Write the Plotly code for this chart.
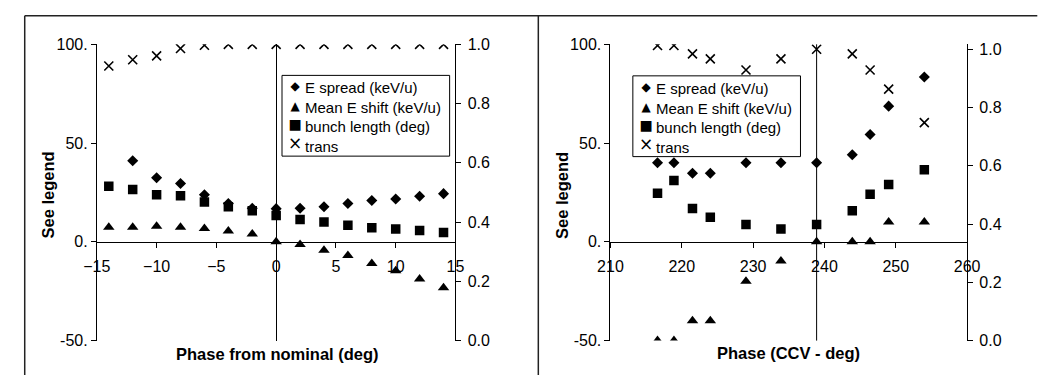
import plotly.graph_objects as go

# ---------------- data: left panel ----------------
phase_nom = [-14, -12, -10, -8, -6, -4, -2, 0, 2, 4, 6, 8, 10, 12, 14]
espread_l = [None, 41.1, 32.4, 29.5, 23.8, 19.4, 17.0, 16.8, 17.0, 17.8, 19.4, 20.9, 21.7, 23.1, 24.4]
eshift_l = [7.4, 7.4, 7.9, 7.4, 6.8, 5.5, 4.0, 0.0, -1.3, -4.2, -6.9, -11.0, -14.6, -18.8, -23.2]
bunch_l = [28.2, 26.5, 23.8, 23.3, 20.2, 17.8, 15.7, 13.3, 11.3, 10.0, 8.4, 7.1, 6.5, 5.7, 4.7]
trans_l = [0.927, 0.948, 0.961, 0.986, 0.997, 1.0, 1.0, 1.0, 1.0, 1.0, 1.0, 1.0, 1.0, 1.0, 1.0]

# ---------------- data: right panel ----------------
phase_ccv = [216.6, 218.9, 221.5, 224.0, 229.0, 233.9, 238.9, 243.9, 246.4, 249.0, 254.0]
espread_r = [40.0, 40.0, 34.7, 34.7, 40.0, 40.0, 40.0, 44.1, 54.3, 68.7, 83.5]
eshift_r = [-50.0, -50.0, -40.0, -40.0, -20.0, -9.7, 0.0, 0.0, 0.0, 10.0, 10.0]
bunch_r = [24.6, 31.1, 16.9, 12.5, 8.8, 6.5, 8.8, 15.7, 24.1, 29.0, 36.5]
trans_r = [1.013, 1.013, 0.984, 0.967, 0.929, 0.967, 1.0, 0.984, 0.929, 0.863, 0.748]

series_names = ["E spread (keV/u)", "Mean E shift (keV/u)", "bunch length (deg)", "trans"]
legend_glyphs = ["◆", "▲", "■", "×"]
left_ticks = [-50, 0, 50, 100]
left_ticktext = ["-50.", "0.", "50.", "100."]

W, H = 1062, 384
FONT = "Liberation Sans, Arial, sans-serif"


def px_x(p):
    return p / W


def px_y(p):
    return 1 - p / H


ydom = [px_y(348), px_y(38)]
xdom_l = [px_x(85), px_x(453)]
xdom_r = [px_x(612), px_x(978)]
ymin, ymax = -50, 100
zero_pos = ydom[0] + (0 - ymin) / (ymax - ymin) * (ydom[1] - ydom[0])

fig = go.Figure()

marker_styles = [
    dict(symbol="diamond", size=8.5, color="black"),
    dict(symbol="triangle-up", size=10, color="black"),
    dict(symbol="square", size=9.5, color="black"),
    dict(symbol="x-thin", size=9, color="black", line=dict(width=1.6, color="black")),
]


def add_panel(xv, ys, xa, ya, ya2):
    for i, (name, yv) in enumerate(zip(series_names, ys)):
        fig.add_trace(go.Scatter(
            x=xv, y=yv, mode="markers", name=name,
            marker=marker_styles[i],
            xaxis=xa, yaxis=(ya2 if i == 3 else ya),
            showlegend=False,
        ))


add_panel(phase_nom, [espread_l, eshift_l, bunch_l, trans_l], "x", "y", "y2")
add_panel(phase_ccv, [espread_r, eshift_r, bunch_r, trans_r], "x2", "y3", "y4")

tickfont = dict(family=FONT, size=16, color="black")
common_x = dict(showgrid=False, showline=True, linecolor="black", linewidth=1,
                ticks="outside", ticklen=5, tickcolor="black", tickfont=tickfont,
                anchor="free", position=zero_pos, ticklabelstandoff=5, zeroline=False)
common_yl = dict(showgrid=False, showline=True, linecolor="black", linewidth=1,
                 ticks="outside", ticklen=5, tickcolor="black", tickfont=tickfont,
                 range=[ymin, ymax], tickvals=left_ticks, ticktext=left_ticktext,
                 zeroline=False, domain=ydom)
common_yr = dict(showgrid=False, showline=True, linecolor="black", linewidth=1,
                 ticks="outside", ticklen=5, tickcolor="black", tickfont=tickfont,
                 side="right", dtick=0.2, tick0=0, tickformat=".1f", zeroline=False,
                 ticklabelstandoff=3)

fig.update_layout(
    width=W, height=H,
    margin=dict(l=0, r=0, t=0, b=0),
    paper_bgcolor="white", plot_bgcolor="white",
    font=dict(family=FONT, size=16, color="black"),
    showlegend=False,
    xaxis=dict(common_x, domain=xdom_l, range=[-15, 15], dtick=5,
               zeroline=True, zerolinecolor="black", zerolinewidth=1),
    yaxis=dict(common_yl, anchor="x"),
    yaxis2=dict(common_yr, overlaying="y", anchor="x", range=[0, 1.0]),
    xaxis2=dict(common_x, domain=xdom_r, range=[210, 260], dtick=10),
    yaxis3=dict(common_yl, anchor="x2"),
    yaxis4=dict(common_yr, overlaying="y3", anchor="x2", range=[0, 1.017]),
)

# vertical reference line in right panel at the 239 point
fig.add_shape(type="line", xref="x2", yref="y3 domain", x0=238.9, x1=238.9, y0=0, y1=1,
              line=dict(color="black", width=1))

# frame lines of the figure
frame = dict(color="#222", width=1.5)
fig.add_shape(type="line", xref="paper", yref="paper", x0=px_x(11), x1=px_x(1050), y0=px_y(8), y1=px_y(8), line=frame)
fig.add_shape(type="line", xref="paper", yref="paper", x0=px_x(11), x1=px_x(11), y0=px_y(8), y1=0, line=frame)
fig.add_shape(type="line", xref="paper", yref="paper", x0=px_x(538), x1=px_x(538), y0=px_y(8), y1=0, line=frame)

LEG_FS = 15
glyph_span = [
    '<span style="font-family:DejaVu Sans;font-size:12px">◆</span>',
    '<span style="font-family:DejaVu Sans;font-size:12px">▲</span>',
    '<span style="font-family:DejaVu Sans;font-size:14px">■</span>',
    '<span style="font-family:DejaVu Sans;font-size:17px">×</span>',
]


def add_legend(left, top, right, bottom):
    fig.add_shape(type="rect", xref="paper", yref="paper",
                  x0=px_x(left), x1=px_x(right), y0=px_y(bottom), y1=px_y(top),
                  line=dict(color="black", width=1), fillcolor="white", layer="above")
    fig.add_annotation(xref="paper", yref="paper", showarrow=False,
                       x=px_x(left + 13), y=px_y(top + 2), xanchor="center", yanchor="top",
                       align="center", text="<br>".join(glyph_span),
                       font=dict(family=FONT, size=LEG_FS, color="black"))
    fig.add_annotation(xref="paper", yref="paper", showarrow=False,
                       x=px_x(left + 22), y=px_y(top + 2), xanchor="left", yanchor="top",
                       align="left", text="<br>".join(series_names),
                       font=dict(family=FONT, size=LEG_FS, color="black"))


add_legend(275, 70.5, 447, 155)
add_legend(635, 71, 807, 155.5)

title_font = dict(family=FONT, size=16.5, color="black")
annots = [
    dict(text="<b>Phase from nominal (deg)</b>", x=px_x(270), y=px_y(362)),
    dict(text="<b>Phase (CCV - deg)</b>", x=px_x(795), y=px_y(361)),
    dict(text="<b>See legend</b>", x=px_x(35), y=px_y(196), textangle=-90),
    dict(text="<b>See legend</b>", x=px_x(563), y=px_y(196), textangle=-90),
]
for a in annots:
    fig.add_annotation(xref="paper", yref="paper", showarrow=False,
                       xanchor="center", yanchor="middle", font=title_font, **a)

fig.write_html("out.html")
